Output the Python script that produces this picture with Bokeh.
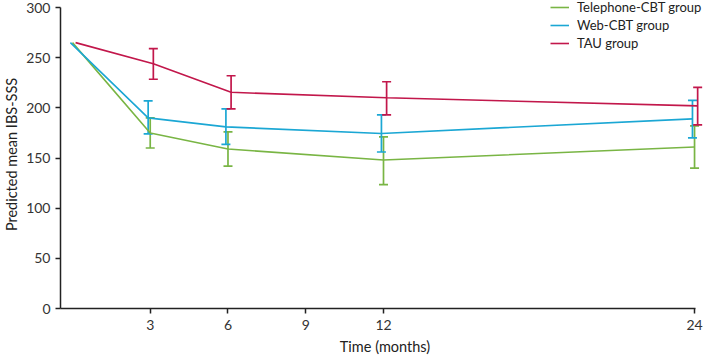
from bokeh.plotting import figure
from bokeh.models import ColumnDataSource, Whisker, Legend, LegendItem, FixedTicker
from bokeh.transform import dodge
from bokeh.embed import file_html
from bokeh.resources import INLINE

months = [0, 3, 6, 12, 24]

tel_mean = [265, 175, 159, 148, 161]
tel_low = [None, 160, 142, 123.5, 140]
tel_high = [None, 190, 176, 171, 182]

web_mean = [265, 190, 181, 174.5, 189]
web_low = [None, 174, 163.5, 156, 170]
web_high = [None, 207, 199, 193, 207.5]

tau_mean = [265, 244, 215.5, 210, 202]
tau_low = [None, 228.5, 199, 193, 183]
tau_high = [None, 259, 232, 226, 220.5]

names = ["Telephone-CBT group", "Web-CBT group", "TAU group"]
colors = ["#79b544", "#1ba7d4", "#c2174b"]
offsets = [0.0, -0.08, 0.12]

x_ticks = [3, 6, 9, 12, 24]
y_ticks = [0, 50, 100, 150, 200, 250, 300]

FONT = "Lato"

p = figure(width=709, height=357, output_backend="svg", toolbar_location=None,
           x_range=(-0.4615, 24.577), y_range=(0, 307),
           min_border_left=58, min_border_right=0, min_border_top=0, min_border_bottom=49)
p.outline_line_color = None
p.xgrid.visible = False
p.ygrid.visible = False

items = []
series = [(tel_mean, tel_low, tel_high), (web_mean, web_low, web_high), (tau_mean, tau_low, tau_high)]
for (mean, low, high), name, col, off in zip(series, names, colors, offsets):
    src = ColumnDataSource(dict(x=months, y=mean))
    r = p.line(x=dodge("x", off, range=p.x_range), y="y", source=src, line_color=col, line_width=1.6)
    items.append(LegendItem(label=name, renderers=[r]))
    esrc = ColumnDataSource(dict(x=months[1:], lo=low[1:], hi=high[1:]))
    w = Whisker(source=esrc, base=dodge("x", off, range=p.x_range), lower="lo", upper="hi",
                line_color=col, line_width=1.7)
    for h in (w.upper_head, w.lower_head):
        h.line_color = col
        h.line_width = 1.7
        h.size = 9
    p.add_layout(w)

legend = Legend(items=items, location=(490, 256), orientation="vertical",
                background_fill_alpha=0, border_line_color=None,
                label_text_font=FONT, label_text_font_size="13px", label_text_color="#222",
                glyph_width=19, glyph_height=18, label_height=18, label_standoff=8,
                spacing=0, padding=0, margin=0)
p.add_layout(legend, "center")

for ax in (p.xaxis[0], p.yaxis[0]):
    ax.axis_line_color = "#222"
    ax.axis_line_width = 1.5
    ax.major_tick_line_color = "#222"
    ax.major_tick_line_width = 1.5
    ax.major_tick_out = 5
    ax.major_tick_in = 0
    ax.minor_tick_line_color = None
    ax.major_label_text_font = FONT
    ax.major_label_text_font_size = "14px"
    ax.major_label_text_color = "#333"
    ax.axis_label_text_font = FONT
    ax.axis_label_text_font_style = "normal"
    ax.axis_label_text_font_size = "14.5px"
    ax.axis_label_text_color = "#222"

p.xaxis.bounds = (-0.4615, 24.04)
p.yaxis.bounds = (0, 300)
p.xaxis.ticker = FixedTicker(ticks=x_ticks)
p.yaxis.ticker = FixedTicker(ticks=y_ticks)
p.xaxis.axis_label = "Time (months)"
p.yaxis.axis_label = "Predicted mean IBS-SSS"
p.xaxis.major_label_standoff = 6
p.xaxis.axis_label_standoff = 5
p.yaxis.major_label_standoff = 5
p.yaxis.axis_label_standoff = 3

open("out.html", "w").write(file_html(p, INLINE))
